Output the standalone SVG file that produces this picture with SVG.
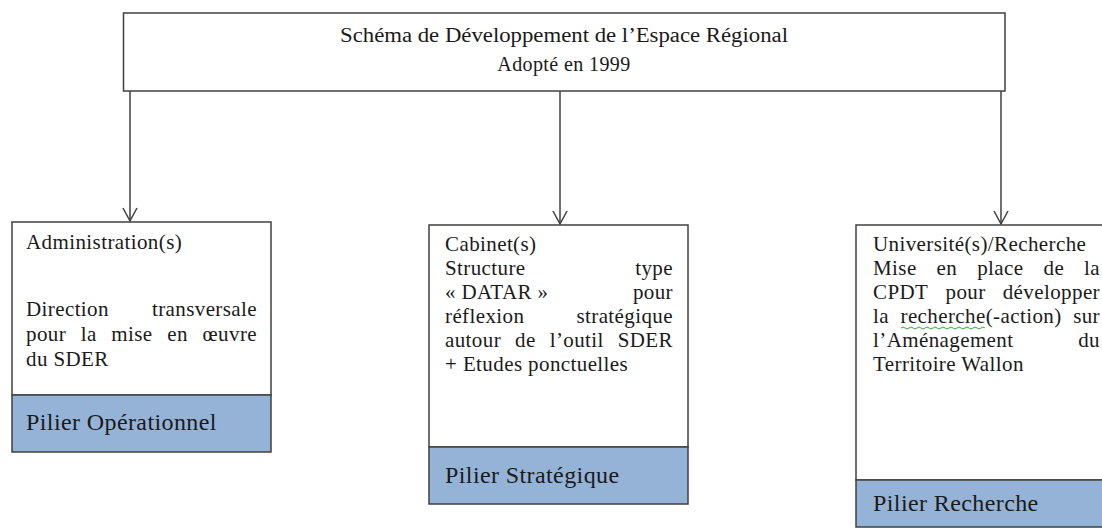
<svg xmlns="http://www.w3.org/2000/svg" width="1102" height="531" viewBox="0 0 1102 531">
<style>
.box{fill:#ffffff;stroke:#404040;stroke-width:1.5}
.pil{fill:#95b3d7;stroke:#404040;stroke-width:1.5}
.t{font-family:"Liberation Serif","Times New Roman",serif;font-size:21px;letter-spacing:0.4px;fill:#1a1a1a}
.p{font-family:"Liberation Serif","Times New Roman",serif;font-size:24px;letter-spacing:0.4px;fill:#1a1a1a}
.h{font-family:"Liberation Serif","Times New Roman",serif;font-size:20px;fill:#1a1a1a;text-anchor:middle}
.e{text-anchor:end}
.conn{stroke:#404040;stroke-width:1.5;fill:none}
</style>
<g id="top">
<rect class="box" x="123.5" y="13" width="881.5" height="78" stroke-width="2"/>
<text class="h" x="564" y="42" textLength="448" lengthAdjust="spacingAndGlyphs">Schéma de Développement  de l’Espace Régional</text>
<text class="h" x="564" y="71" letter-spacing="0.4">Adopté en 1999</text>
</g>
<g id="connectors">
<line class="conn" x1="130" y1="91" x2="130" y2="221"/>
<polyline class="conn" points="123,208 130,221 137,208"/>
<line class="conn" x1="560" y1="91" x2="560" y2="224"/>
<polyline class="conn" points="553,211 560,224 567,211"/>
<line class="conn" x1="1001" y1="91" x2="1001" y2="224"/>
<polyline class="conn" points="994,211 1001,224 1008,211"/>
</g>
<g id="admin">
<rect class="box" x="12" y="222" width="259" height="173"/>
<rect class="pil" x="12" y="395" width="259" height="57"/>
<text class="t" x="26" y="249">Administration(s)</text>
<text class="t" x="26" y="316">Direction</text>
<text class="t e" x="257" y="316">transversale</text>
<text class="t" x="26" y="341">pour</text>
<text class="t" x="80.7" y="341">la</text>
<text class="t" x="111.3" y="341">mise</text>
<text class="t" x="167.2" y="341">en</text>
<text class="t e" x="257" y="341">œuvre</text>
<text class="t" x="26" y="366">du SDER</text>
<text class="p" x="26" y="430">Pilier Opérationnel</text>
</g>
<g id="cabinet">
<rect class="box" x="429" y="225" width="259" height="222"/>
<rect class="pil" x="429" y="447" width="259" height="57"/>
<text class="t" x="445" y="251">Cabinet(s)</text>
<text class="t" x="445" y="275">Structure</text>
<text class="t e" x="673" y="275">type</text>
<text class="t" x="445" y="299">« DATAR »</text>
<text class="t e" x="673" y="299">pour</text>
<text class="t" x="445" y="323">réflexion</text>
<text class="t e" x="673" y="323">stratégique</text>
<text class="t" x="445" y="347">autour</text>
<text class="t" x="515" y="347">de</text>
<text class="t" x="549.7" y="347">l’outil</text>
<text class="t e" x="673" y="347">SDER</text>
<text class="t" x="445" y="371">+ Etudes ponctuelles</text>
<text class="p" x="445" y="483">Pilier Stratégique</text>
</g>
<g id="universite">
<rect class="box" x="856" y="225" width="259" height="255"/>
<rect class="pil" x="856" y="480" width="259" height="47"/>
<text class="t" x="873" y="251">Université(s)/Recherche</text>
<text class="t" x="873" y="275">Mise</text>
<text class="t" x="936.6" y="275">en</text>
<text class="t" x="977.2" y="275">place</text>
<text class="t" x="1043.5" y="275">de</text>
<text class="t e" x="1100" y="275">la</text>
<text class="t" x="873" y="299">CPDT</text>
<text class="t" x="945.5" y="299">pour</text>
<text class="t e" x="1100" y="299">développer</text>
<text class="t" x="873" y="323">la</text>
<text class="t" x="900.5" y="323">recherche(-action)</text>
<text class="t e" x="1100" y="323">sur</text>
<path d="M901,328 q2,-2 4,0 t4,0 t4,0 t4,0 t4,0 t4,0 t4,0 t4,0 t4,0 t4,0 t4,0 t4,0 t4,0 t4,0 t4,0 t4,0 t4,0 t4,0 t4,0 t4,0 t4,0" fill="none" stroke="#3aa63a" stroke-width="1"/>
<text class="t" x="873" y="347">l’Aménagement</text>
<text class="t e" x="1100" y="347">du</text>
<text class="t" x="873" y="371">Territoire Wallon</text>
<text class="p" x="873" y="511">Pilier Recherche</text>
</g>
</svg>
